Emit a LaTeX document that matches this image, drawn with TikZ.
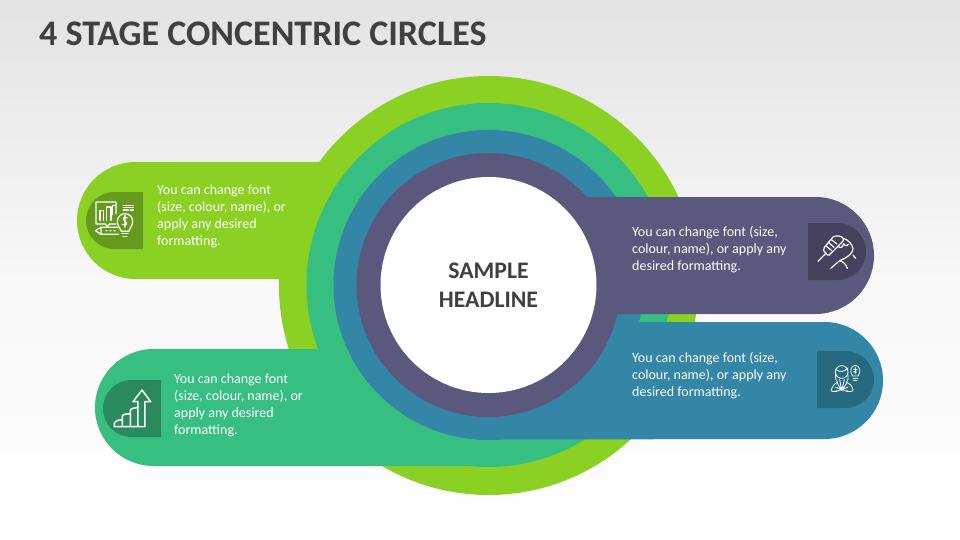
\documentclass[tikz,border=0pt]{standalone}
\usepackage{fontspec}
\setmainfont{Carlito}

\definecolor{limeC}{HTML}{8AD124}
\definecolor{greenC}{HTML}{36BF80}
\definecolor{blueC}{HTML}{3386A6}
\definecolor{purpleC}{HTML}{5B587D}
\definecolor{limeD}{HTML}{659A1F}
\definecolor{greenD}{HTML}{2A8A5E}
\definecolor{blueD}{HTML}{256A7F}
\definecolor{purpleD}{HTML}{45415F}

\tikzset{
	ring/.style={circle, inner sep=0, outer sep=0, draw=none},
	bodytext/.style={text=white, align=left, anchor=north west, inner sep=0,
		font=\fontsize{14}{17}\selectfont},
	iconline/.style={draw=white, line width=1.2pt, line join=round, line cap=round, fill=none},
	iconbox/.style={shift={#1}, x=0.3333pt, y=-0.3333pt}
}

\begin{document}
\begin{tikzpicture}[x=1pt, y=-1pt]
\useasboundingbox (0,0) rectangle (960,540);

% fons
\shade [top color=black!11, bottom color=white, middle color=black!3] (0,0) rectangle (960,540);
\node [anchor=west, inner sep=0, text=black!75, font=\fontsize{36}{40}\selectfont\bfseries] (Title) at (39,34) {4 STAGE CONCENTRIC CIRCLES};

%%%%%%%%%%%%%%%%%%%%%%%%%%%%%%%%%%%%%%%%%%%%%%%%%%%%%%%%%%%%%%%%%%%%%%%%
% Anells i bandes
%%%%%%%%%%%%%%%%%%%%%%%%%%%%%%%%%%%%%%%%%%%%%%%%%%%%%%%%%%%%%%%%%%%%%%%%
\node [ring, fill=limeC, minimum size=419] (LimeRing) at (488.5,285.5) {};
\fill [limeC] (330,162) -- (135.5,162) arc (270:90:58.5) -- (330,279) -- cycle;
\node [ring, fill=greenC, minimum size=364] (GreenRing) at (488.5,285) {};
\fill [greenC] (500,349) -- (153.5,349) arc (270:90:58.5) -- (500,466) -- cycle;
\node [ring, fill=blueC, minimum size=310] (BlueRing) at (488.5,285) {};
\fill [blueC] (480,322) -- (824.5,322) arc (-90:90:58.5) -- (480,439.5) -- cycle;
\node [ring, fill=purpleC, minimum size=264] (PurpleRing) at (488.5,285) {};
\fill [purpleC] (520,197) -- (815.5,197) arc (-90:90:58.5) -- (520,314) -- cycle;
\node [ring, fill=white, minimum size=216, align=center, text=black!75,
	font=\fontsize{23.7}{29}\selectfont\bfseries] (Headline) at (488.5,285) {SAMPLE\\HEADLINE};

%%%%%%%%%%%%%%%%%%%%%%%%%%%%%%%%%%%%%%%%%%%%%%%%%%%%%%%%%%%%%%%%%%%%%%%%
% Textos
%%%%%%%%%%%%%%%%%%%%%%%%%%%%%%%%%%%%%%%%%%%%%%%%%%%%%%%%%%%%%%%%%%%%%%%%
\node [bodytext] (LimeText) at (157,185) {You can change font\\(size, colour, name), or\\apply any desired\\formatting.};
\node [bodytext] (GreenText) at (174,374) {You can change font\\(size, colour, name), or\\apply any desired\\formatting.};
\node [bodytext] (PurpleText) at (632,226) {You can change font (size,\\colour, name), or apply any\\desired formatting.};
\node [bodytext] (BlueText) at (632,352) {You can change font (size,\\colour, name), or apply any\\desired formatting.};

%%%%%%%%%%%%%%%%%%%%%%%%%%%%%%%%%%%%%%%%%%%%%%%%%%%%%%%%%%%%%%%%%%%%%%%%
% Icones
%%%%%%%%%%%%%%%%%%%%%%%%%%%%%%%%%%%%%%%%%%%%%%%%%%%%%%%%%%%%%%%%%%%%%%%%
\fill [limeD] (143,192) -- (114.5,192) arc (270:90:28.5) -- (143,249) -- cycle;
\fill [greenD] (161,380) -- (131.5,380) arc (270:90:28.5) -- (161,437) -- cycle;
\fill [purpleD] (808,223) -- (837.5,223) arc (-90:90:28.5) -- (808,280) -- cycle;
\fill [blueD] (817,351) -- (845.5,351) arc (-90:90:28.5) -- (817,408) -- cycle;

% grafic i bombeta
\begin{scope}[iconbox={(86,192)}, iconline]
\draw (90,65) -- (90,30) -- (30,30) -- (30,96) -- (58,96) -- (64,104) -- (70,96) -- (90,96);
\draw (42,85) -- (42,55) -- (53,55) -- (53,85) (62,85) -- (62,45) -- (75,45) -- (75,85) (80,68) -- (80,40) -- (90,40);
\draw (112,40) -- (142,40) (112,47) -- (142,47) (112,54) -- (128,54) (134,54) -- (142,54);
\draw (106,118) .. controls (103,108) and (94,102) .. (94,88) arc (180:360:23) .. controls (140,102) and (131,108) .. (128,118) -- cycle;
\draw (108,125) -- (126,125) (111,133) -- (123,133);
\draw (124,78) .. controls (114,70) and (108,82) .. (116,87) .. controls (126,92) and (122,104) .. (110,97) (117,70) -- (117,106);
\draw (96,106) -- (45,106) -- (28,116) -- (45,127) -- (98,127) (45,106) -- (45,127) (60,116) -- (63,116) (72,116) -- (75,116) (84,116) -- (87,116);
\end{scope}

% escala i fletxa
\begin{scope}[iconbox={(103,380)}, iconline, line width=1.5pt]
\draw (34,140) -- (34,130) .. controls (35,122) and (54,118) .. (58,120) -- (58,140);
\draw (58,120) -- (58,108) .. controls (59,102) and (78,100) .. (82,102) -- (82,140);
\draw (82,102) -- (82,90) .. controls (83,85) and (102,82) .. (105,84);
\draw (34,140) -- (126,140) -- (126,65) -- (143,65) -- (117,30) -- (90,65) -- (105,65) -- (105,140);
\end{scope}

% mans
\begin{scope}[iconbox={(808,223)}, iconline]
\draw (30,115) -- (54,91);
\draw (54,91) .. controls (44,84) and (46,76) .. (50,72) -- (75,42) .. controls (85,36) and (100,38) .. (106,46) .. controls (110,55) and (95,62) .. (90,70) -- (64,96) .. controls (60,99) and (56,95) .. (54,91) -- cycle;
\draw (53,68) -- (70,82) (61,58) -- (78,73) (69,49) -- (87,63);
\draw (106,46) .. controls (120,50) and (132,62) .. (135,76) .. controls (135,88) and (125,97) .. (112,105) -- (95,113) -- (68,136);
\draw (90,70) .. controls (98,78) and (105,72) .. (107,62) (107,62) .. controls (112,70) and (118,70) .. (122,64);
\draw (135,96) -- (143,106);
\draw (95,113) .. controls (105,116) and (115,124) .. (118,136);
\end{scope}

% persona i bombeta
\begin{scope}[iconbox={(817,350)}, iconline, line width=0.8pt]
\draw (74,66) circle (19);
\draw (56,58) .. controls (66,68) and (82,66) .. (93,54);
\draw (56,70) .. controls (54,86) and (58,94) .. (62,98) (92,70) .. controls (95,86) and (92,94) .. (88,98);
\draw (60,98) -- (74,122) -- (90,98) (68,88) -- (74,122) -- (82,88);
\draw (60,98) .. controls (50,102) and (46,112) .. (43,118) .. controls (40,126) and (54,126) .. (60,122) (90,98) .. controls (102,102) and (106,112) .. (108,118) .. controls (110,126) and (96,126) .. (90,122);
\draw (56,112) -- (92,125) (92,112) -- (56,125);
\draw (107,78) .. controls (96,66) and (102,46) .. (115,46) .. controls (128,46) and (134,66) .. (123,78) -- cycle;
\draw (108,84) -- (122,84) (110,90) -- (120,90);
\draw (115,52) -- (115,72) (110,58) -- (120,58) -- (110,66) -- (120,66);
\end{scope}

\end{tikzpicture}
\end{document}
